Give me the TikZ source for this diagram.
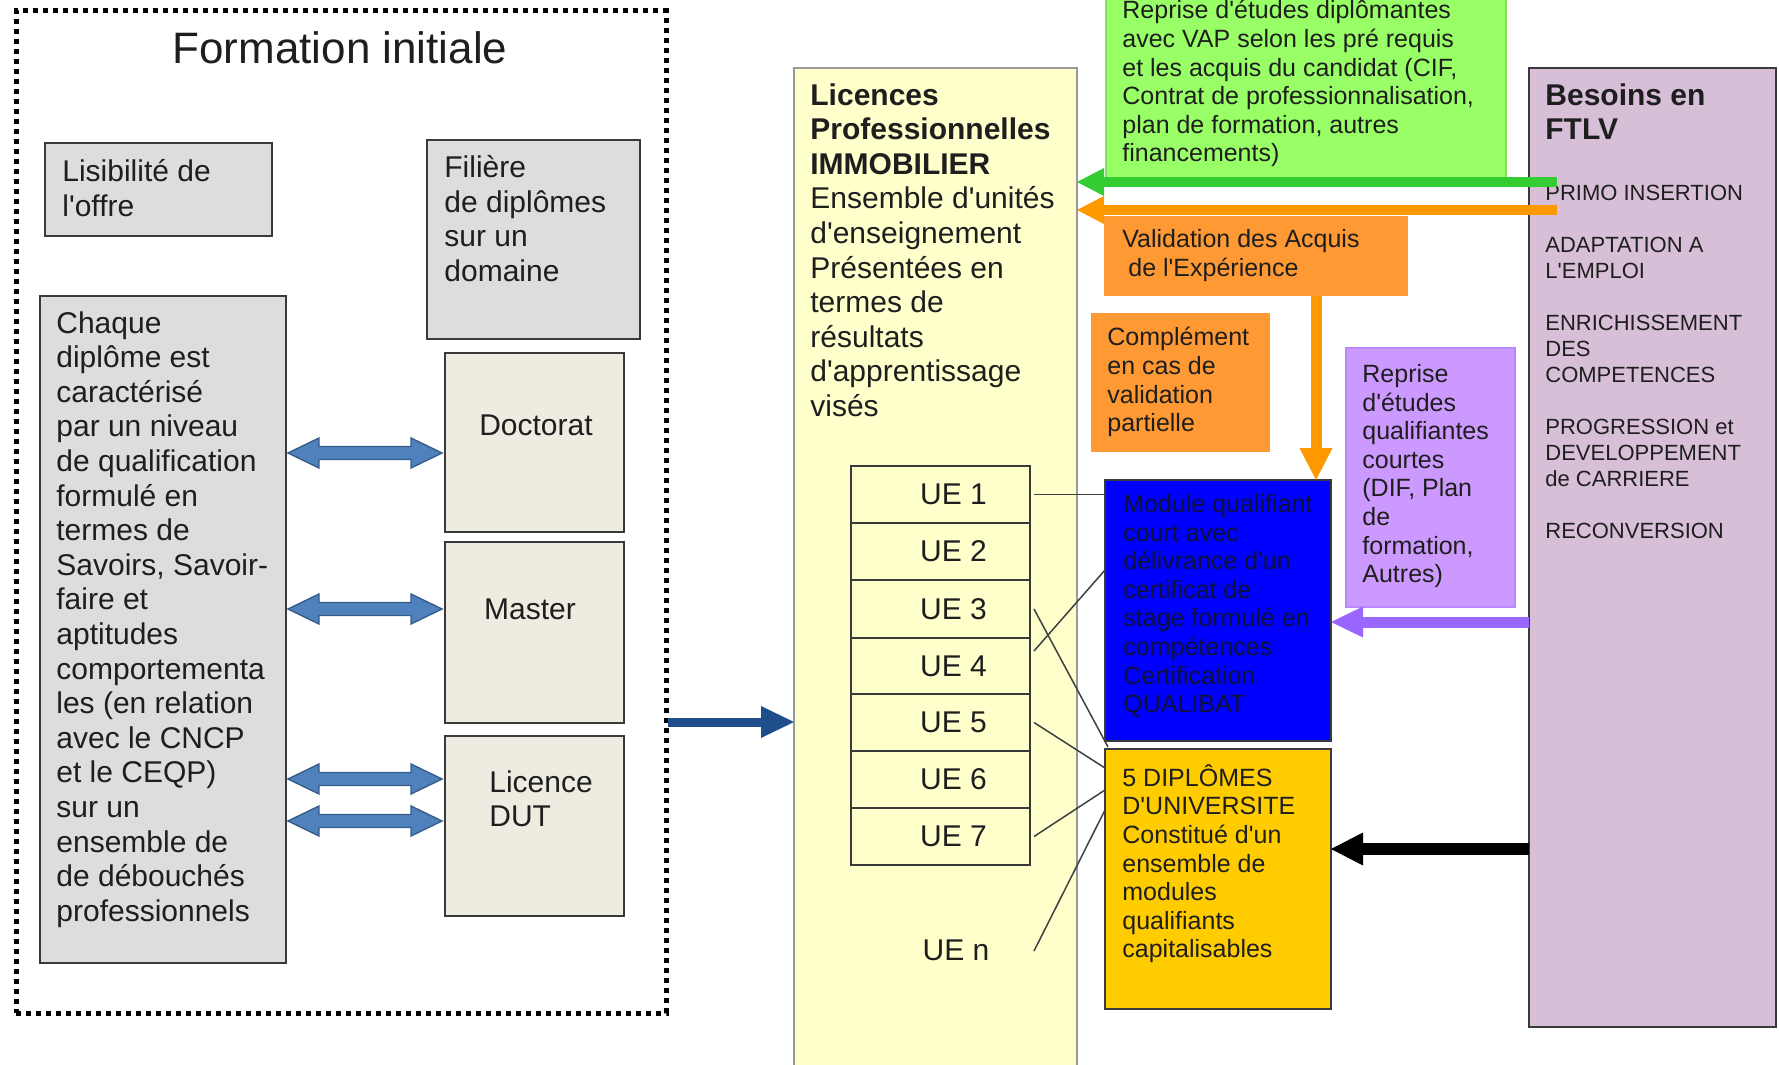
\documentclass[tikz,border=0pt]{standalone}
\usepackage{fontspec}
\setmainfont{Liberation Sans}
\usetikzlibrary{arrows.meta,fit}
\definecolor{txtc}{HTML}{1E1E1E}
\definecolor{boxln}{HTML}{3A3A3A}
\definecolor{grayfill}{HTML}{DDDDDD}
\definecolor{beige}{HTML}{EEECE1}
\definecolor{lightyel}{HTML}{FFFFCC}
\definecolor{grfill}{HTML}{99FF66}
\definecolor{grbord}{HTML}{7EE65A}
\definecolor{grline}{HTML}{33CC33}
\definecolor{orfill}{HTML}{FF9933}
\definecolor{orline}{HTML}{FF9900}
\definecolor{modblue}{HTML}{0000FF}
\definecolor{modtxt}{HTML}{10103A}
\definecolor{dipyel}{HTML}{FFCC00}
\definecolor{purfill}{HTML}{CC99FF}
\definecolor{purbord}{HTML}{B98AFF}
\definecolor{purline}{HTML}{9966FF}
\definecolor{besfill}{HTML}{D7BFD7}
\definecolor{dblfill}{HTML}{4F81BD}
\definecolor{dblline}{HTML}{385D8A}
\definecolor{bigblue}{HTML}{1F4E8C}
\newcommand\fa{\fontsize{15pt}{17.3pt}\selectfont}
\newcommand\fb{\fontsize{12.5pt}{14.3pt}\selectfont}
\newcommand\fc{\fontsize{11pt}{13pt}\selectfont}
\newcommand\q{\textquotesingle}
\newcommand\dblarrow[2]{%
 \filldraw[dblarr] (#1) -- ([shift={(15.5pt,7.5pt)}]#1) -- ([shift={(15.5pt,3.25pt)}]#1)
 -- ([shift={(-15.5pt,3.25pt)}]#2) -- ([shift={(-15.5pt,7.5pt)}]#2) -- (#2)
 -- ([shift={(-15.5pt,-7.5pt)}]#2) -- ([shift={(-15.5pt,-3.25pt)}]#2)
 -- ([shift={(15.5pt,-3.25pt)}]#1) -- ([shift={(15.5pt,-7.5pt)}]#1) -- cycle;}
\tikzset{
 rbox/.style={draw=boxln, line width=0.8pt, inner sep=0pt, outer sep=0pt},
 graybox/.style={rbox, fill=grayfill},
 beigebox/.style={rbox, fill=beige},
 licbox/.style={draw=gray!80, line width=0.8pt, fill=lightyel, inner sep=0pt, outer sep=0pt},
 uebox/.style={rbox, fill=lightyel},
 uelab/.style={font=\fa, text=txtc, inner sep=0pt},
 greenbox/.style={draw=grbord, line width=0.8pt, fill=grfill, inner sep=0pt, outer sep=0pt},
 orbox/.style={fill=orfill, inner sep=0pt, outer sep=0pt},
 modbox/.style={rbox, fill=modblue},
 dipbox/.style={rbox, fill=dipyel},
 purbox/.style={draw=purbord, line width=0.8pt, fill=purfill, inner sep=0pt, outer sep=0pt},
 besbox/.style={draw=boxln, line width=0.8pt, fill=besfill, inner sep=0pt, outer sep=0pt},
 framest/.style={draw=black, line width=2.5pt, dash pattern=on 2.5pt off 2.5pt, inner sep=0pt, outer sep=0pt},
 txt/.style={anchor=north west, inner sep=0pt, align=left, text=txtc},
 dblarr/.style={fill=dblfill, draw=dblline, line width=0.7pt, line join=miter},
 ueline/.style={draw=black!75, line width=0.75pt},
}
\begin{document}
\begin{tikzpicture}[x=0.5pt,y=-0.5pt]
\useasboundingbox (0,0) rectangle (1779,1065);
% ---------- Formation initiale ----------
\node[framest, fit={(16,11) (666,1013)}] (frame) {};
\node[text=txtc, font=\fontsize{22pt}{26pt}\selectfont, inner sep=0pt] (title) at (340,48) {Formation initiale};
\node[graybox, fit={(45,143) (272,236)}] (lis) {};
\node[txt, font=\fa] (tlis) at (62,159) {Lisibilité de\\l\q offre};
\node[graybox, fit={(427,140) (640,339)}] (fil) {};
\node[txt, font=\fa] (tfil) at (444,155) {Filière\\de diplômes\\sur un\\domaine};
\node[graybox, fit={(40,296) (286,963)}] (chaque) {};
\node[txt, font=\fa] (tchaque) at (56,311) {Chaque\\diplôme est\\caractérisé\\par un niveau\\de qualification\\formulé en\\termes de\\Savoirs, Savoir-\\faire et\\aptitudes\\comportementa\\les (en relation\\avec le CNCP\\et le CEQP)\\sur un\\ensemble de\\de débouchés\\professionnels};
\node[beigebox, fit={(445,353) (624,532)}] (doc) {};
\node[font=\fa, text=txtc, inner sep=0pt] (tdoc) at (536,425) {Doctorat};
\node[beigebox, fit={(445,542) (624,723)}] (mas) {};
\node[font=\fa, text=txtc, inner sep=0pt] (tmas) at (530,609) {Master};
\node[beigebox, fit={(445,736) (624,916)}] (lic) {};
\node[txt, font=\fa] (tlic) at (489,770) {Licence\\DUT};
\coordinate (da1) at (288,453); \coordinate (db1) at (442,453);
\coordinate (da2) at (288,609); \coordinate (db2) at (442,609);
\coordinate (da3) at (288,779); \coordinate (db3) at (442,779);
\coordinate (da4) at (288,821); \coordinate (db4) at (442,821);
\dblarrow{da1}{db1}
\dblarrow{da2}{db2}
\dblarrow{da3}{db3}
\dblarrow{da4}{db4}
% ---------- Licences professionnelles ----------
\node[licbox, fit={(794,68) (1077,1080)}] (lp) {};
\node[txt, font=\fa] (tlp) at (810,83) {\textbf{Licences}\\\textbf{Professionnelles}\\\textbf{IMMOBILIER}\\Ensemble d\q unités\\d\q enseignement\\Présentées en\\termes de\\résultats\\d\q apprentissage\\visés};
\coordinate (bs) at (668,722);
\draw[draw=bigblue, line width=4.5pt, -{Triangle[length=16.5pt,width=16pt,line width=0pt]}] (bs) -- (bs -| lp.west);
\node[uebox, fit={(851,466) (1030,523)}] (ue1) {};
\node[uebox, fit={(851,523) (1030,580)}] (ue2) {};
\node[uebox, fit={(851,580) (1030,638)}] (ue3) {};
\node[uebox, fit={(851,638) (1030,694)}] (ue4) {};
\node[uebox, fit={(851,694) (1030,751)}] (ue5) {};
\node[uebox, fit={(851,751) (1030,808)}] (ue6) {};
\node[uebox, fit={(851,808) (1030,865)}] (ue7) {};
\node[uelab] (lue1) at ([xshift=6.5pt]ue1.center) {UE 1};
\node[uelab] (lue2) at ([xshift=6.5pt]ue2.center) {UE 2};
\node[uelab] (lue3) at ([xshift=6.5pt]ue3.center) {UE 3};
\node[uelab] (lue4) at ([xshift=6.5pt]ue4.center) {UE 4};
\node[uelab] (lue5) at ([xshift=6.5pt]ue5.center) {UE 5};
\node[uelab] (lue6) at ([xshift=6.5pt]ue6.center) {UE 6};
\node[uelab] (lue7) at ([xshift=6.5pt]ue7.center) {UE 7};
\node[uelab] (uen) at (956,950) {UE n};
\coordinate (uenr) at (1034,951);
% ---------- right side ----------
\node[greenbox, fit={(1106,-12) (1506,185)}] (green) {};
\node[txt, font=\fb] (tgreen) at (1122,0) {Reprise d\q études diplômantes\\avec VAP selon les pré requis\\et les acquis du candidat (CIF,\\Contrat de professionnalisation,\\plan de formation, autres\\financements)};
\node[orbox, fit={(1104,216) (1408,296)}] (vae) {};
\node[txt, font=\fb] (tvae) at (1122,229) {Validation des Acquis\\\hspace*{3pt}de l\q Expérience};
\node[orbox, fit={(1091,313) (1270,452)}] (comp) {};
\node[txt, font=\fb] (tcomp) at (1107,327) {Complément\\en cas de\\validation\\partielle};
\node[modbox, fit={(1105,480) (1331,741)}] (mod) {};
\node[txt, font=\fb, text=modtxt] (tmod) at (1123,494) {Module qualifiant\\court avec\\délivrance d\q un\\certificat de\\stage formulé en\\compétences\\Certification\\QUALIBAT};
\node[dipbox, fit={(1105,749) (1331,1009)}] (dip) {};
\node[txt, font=\fb] (tdip) at (1122,764) {5 DIPLÔMES\\D\q UNIVERSITE\\Constitué d\q un\\ensemble de\\modules\\qualifiants\\capitalisables};
\node[purbox, fit={(1346,348) (1515,607)}] (pur) {};
\node[txt, font=\fb] (tpur) at (1362,364) {Reprise\\d\q études\\qualifiantes\\courtes\\(DIF, Plan\\de\\formation,\\Autres)};
\node[besbox, fit={(1529,68) (1776,1027)}] (bes) {};
\node[txt, font=\fa] (tbes) at (1545,83) {\textbf{Besoins en}\\\textbf{FTLV}};
\node[txt, font=\fc] (tbes2) at (1545,185) {PRIMO INSERTION\\[13pt]ADAPTATION A\\L\q EMPLOI\\[13pt]ENRICHISSEMENT\\DES\\COMPETENCES\\[13pt]PROGRESSION et\\DEVELOPPEMENT\\de CARRIERE\\[13pt]RECONVERSION};
% ---------- arrows ----------
\coordinate (gs) at (1557,182);
\draw[draw=grline, line width=5pt, -{Triangle[length=13.5pt,width=14pt,line width=0pt]}] (gs) -- (gs -| lp.east);
\coordinate (os) at (1557,210);
\draw[draw=orline, line width=5pt, -{Triangle[length=13.5pt,width=14pt,line width=0pt]}] (os) -- (os -| lp.east);
\coordinate (vd) at (1316,296);
\draw[draw=orline, line width=5.5pt, -{Triangle[length=16pt,width=16.5pt,line width=0pt]}] (vd) -- (vd |- mod.north);
\coordinate (ps) at (1529,622);
\draw[draw=purline, line width=5.5pt, -{Triangle[length=16pt,width=15.5pt,line width=0pt]}] (ps) -- (ps -| mod.east);
\coordinate (ks) at (1529,849);
\draw[draw=black, line width=6pt, -{Triangle[length=16pt,width=16.5pt,line width=0pt]}] (ks) -- (ks -| dip.east);
% ---------- UE links ----------
\draw[ueline] ([xshift=2pt]ue1.east) -- (ue1.east -| mod.west);
\draw[ueline] ([xshift=2pt,yshift=7.5pt]ue4.east) -- ([yshift=-45pt]mod.north west);
\draw[ueline] ([xshift=2pt]ue3.east) -- ([xshift=1.5pt,yshift=1pt]dip.north west);
\draw[ueline] ([xshift=2pt]ue5.east) -- ([yshift=-9.5pt]dip.north west);
\draw[ueline] ([xshift=2pt]ue7.east) -- ([yshift=-20.5pt]dip.north west);
\draw[ueline] (uenr) -- ([yshift=-30.5pt]dip.north west);
\end{tikzpicture}
\end{document}
